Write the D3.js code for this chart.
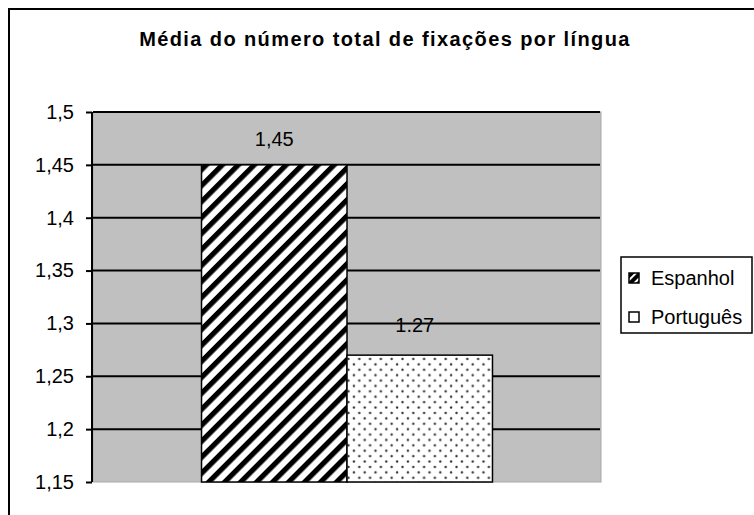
<!DOCTYPE html>
<html lang="pt">
<head>
<meta charset="utf-8">
<title>Média do número total de fixações por língua</title>
<script src="https://cdn.jsdelivr.net/npm/d3@7"></script>
<style>
  body { margin: 0; background: #fff; }
  svg { display: block; font-family: "Liberation Sans", Arial, sans-serif; }
</style>
</head>
<body>
<script>
// data
var series = ["Espanhol", "Português"];
var values = [1.45, 1.27];
var valueLabels = ["1,45", "1.27"];
var tickValues = [1.15, 1.2, 1.25, 1.3, 1.35, 1.4, 1.45, 1.5];
var tickLabels = ["1,15", "1,2", "1,25", "1,3", "1,35", "1,4", "1,45", "1,5"];
var title = "Média do número total de fixações por língua";

var w = 754, h = 515;
var plot = { left: 93, right: 601, top: 112, bottom: 482 };

var svg = d3.select("body").append("svg")
  .attr("width", w)
  .attr("height", h);

var defs = svg.append("defs");

// diagonal stripes
var stripes = defs.append("pattern")
  .attr("id", "stripes")
  .attr("patternUnits", "userSpaceOnUse")
  .attr("width", 11.3)
  .attr("height", 11.3)
  .attr("patternTransform", "rotate(45)");
stripes.append("rect").attr("width", 11.3).attr("height", 11.3).attr("fill", "#fff");
stripes.append("rect").attr("width", 5.2).attr("height", 11.3).attr("fill", "#000");

// small stripes for the legend swatch
var stripesSmall = defs.append("pattern")
  .attr("id", "stripesSmall")
  .attr("patternUnits", "userSpaceOnUse")
  .attr("width", 6)
  .attr("height", 6)
  .attr("patternTransform", "rotate(45)");
stripesSmall.append("rect").attr("width", 6).attr("height", 6).attr("fill", "#fff");
stripesSmall.append("rect").attr("width", 4).attr("height", 6).attr("fill", "#000");

// dots
var dots = defs.append("pattern")
  .attr("id", "dots")
  .attr("patternUnits", "userSpaceOnUse")
  .attr("x", 346).attr("y", 356)
  .attr("width", 10.8)
  .attr("height", 10.8);
dots.append("rect").attr("width", 10.8).attr("height", 10.8).attr("fill", "#fff");
dots.append("circle").attr("cx", 2.5).attr("cy", 3).attr("r", 1.2).attr("fill", "#333");
dots.append("circle").attr("cx", 7.9).attr("cy", 8.4).attr("r", 1.2).attr("fill", "#333");

var fills = ["url(#stripes)", "url(#dots)"];
var swatchFills = ["url(#stripesSmall)", "#fff"];

// outer frame
svg.append("rect")
  .attr("x", 9).attr("y", 9)
  .attr("width", 800).attr("height", 600)
  .attr("fill", "none")
  .attr("stroke", "#000")
  .attr("stroke-width", 2);

var yScale = d3.scaleLinear()
  .domain([1.15, 1.5])
  .range([plot.bottom, plot.top]);

var xScale = d3.scaleBand()
  .domain(series)
  .range([plot.left, plot.right])
  .paddingInner(0)
  .paddingOuter(0.746);

// plot background
svg.append("rect")
  .attr("x", plot.left)
  .attr("y", plot.top)
  .attr("width", plot.right - plot.left)
  .attr("height", plot.bottom - plot.top)
  .attr("fill", "#c0c0c0")
  .attr("stroke", "#a8a8a8")
  .attr("stroke-width", 1);

// gridlines
svg.selectAll("line.grid")
  .data(tickValues.slice(1))
  .enter()
  .append("line")
  .attr("class", "grid")
  .attr("x1", plot.left)
  .attr("x2", plot.right - 1)
  .attr("y1", function(d) { return yScale(d); })
  .attr("y2", function(d) { return yScale(d); })
  .attr("stroke", "#000")
  .attr("stroke-width", 2);

// bars
svg.selectAll("rect.bar")
  .data(values)
  .enter()
  .append("rect")
  .attr("class", "bar")
  .attr("x", function(d, i) { return xScale(series[i]); })
  .attr("y", function(d) { return yScale(d); })
  .attr("width", xScale.bandwidth())
  .attr("height", function(d) { return plot.bottom - yScale(d); })
  .attr("fill", function(d, i) { return fills[i]; })
  .attr("stroke", "#000")
  .attr("stroke-width", 1.5);

// value labels
svg.selectAll("text.val")
  .data(values)
  .enter()
  .append("text")
  .attr("class", "val")
  .attr("text-anchor", "middle")
  .attr("x", function(d, i) { return xScale(series[i]) + xScale.bandwidth() / 2 - (i == 1 ? 5 : 0); })
  .attr("y", function(d, i) { return yScale(d) - (i == 1 ? 23 : 19); })
  .attr("font-size", "20px")
  .attr("fill", "#000")
  .text(function(d, i) { return valueLabels[i]; });

// y axis
var yAxis = d3.axisLeft(yScale)
  .tickValues(tickValues)
  .tickSize(6)
  .tickPadding(12)
  .tickFormat(function(d, i) { return tickLabels[i]; });

var gy = svg.append("g")
  .attr("transform", "translate(" + (plot.left - 1) + ",0)")
  .call(yAxis);
gy.selectAll("path, line").attr("stroke", "#000").attr("stroke-width", 2);
gy.select("path").attr("d", "M0," + plot.top + "V" + plot.bottom);
gy.selectAll("text")
  .attr("font-size", "20px")
  .attr("font-family", "'Liberation Sans', Arial, sans-serif")
  .attr("fill", "#000");

// title
svg.append("text")
  .attr("x", 385)
  .attr("y", 46)
  .attr("text-anchor", "middle")
  .attr("font-size", "20px")
  .attr("font-weight", "bold")
  .attr("letter-spacing", "1.4px")
  .text(title);

// legend
var legend = svg.append("g");
legend.append("rect")
  .attr("x", 621).attr("y", 257)
  .attr("width", 131).attr("height", 76)
  .attr("fill", "#fff")
  .attr("stroke", "#000")
  .attr("stroke-width", 1.5);

var items = legend.selectAll("g.item")
  .data(series)
  .enter()
  .append("g")
  .attr("class", "item")
  .attr("transform", function(d, i) { return "translate(629," + (273 + i * 39) + ")"; });

items.append("rect")
  .attr("width", 10).attr("height", 10)
  .attr("fill", function(d, i) { return swatchFills[i]; })
  .attr("stroke", "#000")
  .attr("stroke-width", 1.5);

items.append("text")
  .attr("x", 22)
  .attr("y", 12)
  .attr("font-size", "20px")
  .text(function(d) { return d; });
</script>
</body>
</html>
